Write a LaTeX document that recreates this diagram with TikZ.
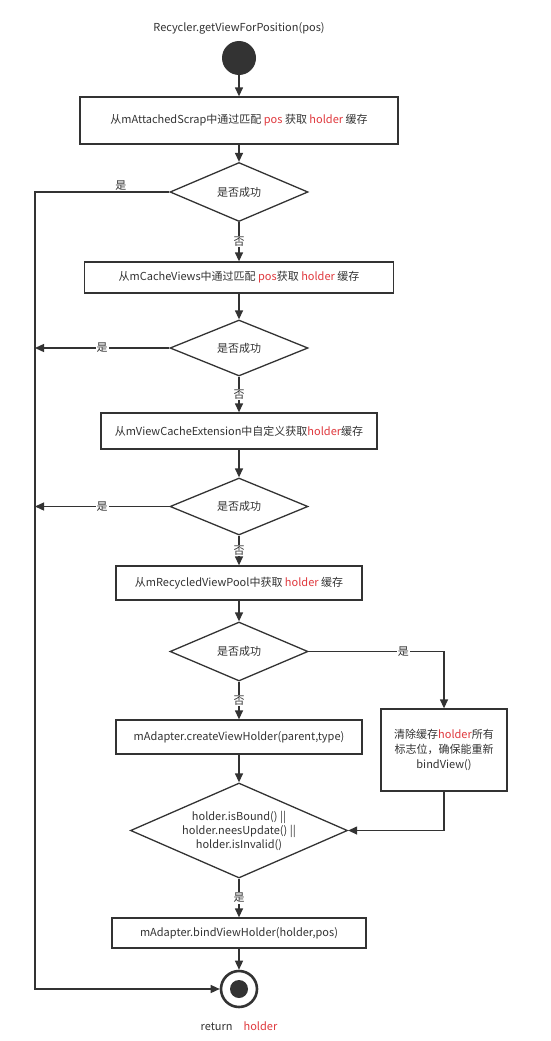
\documentclass[tikz,border=0pt]{standalone}
\usepackage{fontspec}
\setmainfont{Noto Sans CJK SC}
\usetikzlibrary{shapes.geometric, arrows.meta, positioning, calc}
\definecolor{rv_dark}{HTML}{333333}
\definecolor{rv_red}{HTML}{E0393E}
\colorlet{rvdark}{rv_dark}
\colorlet{rvred}{rv_red}
\newcommand{\redtxt}[1]{\textcolor{rvred}{#1}}
\tikzset{
  action/.style={rectangle,draw=rvdark,line width=1.3pt,fill=white,text=rvdark,font=\fontsize{11}{15}\selectfont,inner sep=0pt},
  decision/.style={diamond,aspect=2.3,draw=rvdark,line width=1.3pt,fill=white,text=rvdark,font=\fontsize{11}{14}\selectfont,inner sep=0pt,minimum width=138pt,minimum height=59pt},
  caption/.style={text=rvdark,inner sep=0pt,font=\fontsize{11}{13}\selectfont},
  lbl/.style={fill=white,text=rvdark,inner sep=1pt,font=\fontsize{11}{13}\selectfont},
  startdot/.style={circle,fill=rvdark,minimum size=34pt,inner sep=0pt},
  enddot/.style={circle,draw=rvdark,line width=2.6pt,fill=white,minimum size=36pt,inner sep=0pt,
    path picture={\fill[rvdark] (path picture bounding box.center) circle (9pt);}},
  flow/.style={draw=rvdark,line width=1.3pt,-{Triangle[length=9pt,width=8pt]}},
}

\begin{document}
\begin{tikzpicture}[x=1pt,y=-1pt]
	\useasboundingbox[fill=white] (0,0) rectangle (551,1041);
	\coordinate (L) at (35,0);
	\node[startdot] (S) at (239,58) {};
	\node[caption,above=6pt of S] (title) {Recycler.getViewForPosition(pos)};
	\node[action,minimum width=318pt,minimum height=47pt] (A) at (239,120.5) {从mAttachedScrap中通过匹配 \redtxt{pos} 获取 \redtxt{holder} 缓存};
	\node[decision] (QA) at (239,192) {是否成功};
	\node[action,minimum width=309pt,minimum height=31pt] (B) at (239,277.5) {从mCacheViews中通过匹配 \redtxt{pos}获取 \redtxt{holder} 缓存};
	\node[decision,minimum height=56pt] (QB) at (239,348) {是否成功};
	\node[action,minimum width=276pt,minimum height=36pt] (C) at (239,431) {从mViewCacheExtension中自定义获取\redtxt{holder}缓存};
	\node[decision,minimum height=57pt] (QC) at (239,506.5) {是否成功};
	\node[action,minimum width=246pt,minimum height=34pt] (D) at (239,583) {从mRecycledViewPool中获取 \redtxt{holder} 缓存};
	\node[decision] (QD) at (239,651.5) {是否成功};
	\node[action,minimum width=246pt,minimum height=34pt] (E) at (239,737) {mAdapter.createViewHolder(parent,type)};
	\node[action,minimum width=126pt,minimum height=82pt,align=center] (F) at (444,750) {清除缓存\redtxt{holder}所有\\标志位，确保能重新\\bindView()};
	\node[decision,minimum width=217pt,minimum height=95pt,align=center] (QE) at (239,830.5) {holder.isBound() ||\\holder.neesUpdate() ||\\holder.isInvalid()};
	\node[action,minimum width=254pt,minimum height=30pt] (G) at (239,933) {mAdapter.bindViewHolder(holder,pos)};
	\node[enddot] (T) at (239,989) {};
	\node[caption,below=13pt of T] (ret) {return\quad\redtxt{holder}};
	% main column
	\draw (S) edge[flow] (A);
	\draw (A) edge[flow] (QA);
	\draw (QA) edge[flow] node[lbl] {否} (B);
	\draw (B) edge[flow] (QB);
	\draw (QB) edge[flow] node[lbl] {否} (C);
	\draw (C) edge[flow] (QC);
	\draw (QC) edge[flow] node[lbl] {否} (D);
	\draw (D) edge[flow] (QD);
	\draw (QD) edge[flow] node[lbl] {否} (E);
	\draw (E) edge[flow] (QE);
	\draw (QE) edge[flow] node[lbl] {是} (G);
	\draw (G) edge[flow] (T);
	% hits go back to the left rail
	\draw[flow] (QA.west) -- node[lbl,pos=0.36,above,fill=none] {是} (QA.west -| L) |- (T.west);
	\draw[flow] (QB.west) -- node[lbl] {是} (QB.west -| L);
	\draw[flow] (QC.west) -- node[lbl] {是} (QC.west -| L);
	\draw[flow] (QD.east) -| node[lbl,pos=0.35] {是} (F.north);
	\draw[flow] (F.south) |- (QE.east);
\end{tikzpicture}
\end{document}
